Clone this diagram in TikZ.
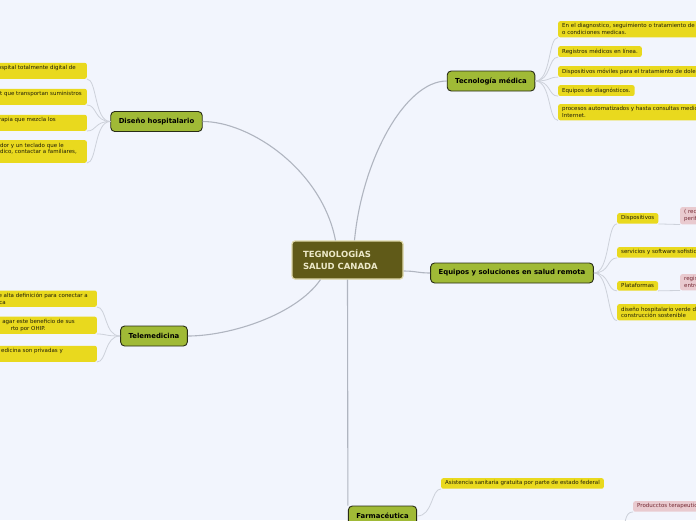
\documentclass[tikz,border=0pt]{standalone}
\usepackage{fontspec}
\setmainfont{DejaVu Sans}
\usepackage{tikz}
\usetikzlibrary{positioning}
\usepackage{xcolor}
\definecolor{PageBlue}{RGB}{242,245,253}
\definecolor{CentOlive}{RGB}{96,90,24}
\definecolor{CentEdge}{RGB}{222,216,170}
\definecolor{CentText}{RGB}{236,232,200}
\definecolor{BranchGreen}{RGB}{160,186,54}
\definecolor{BranchEdge}{RGB}{40,44,22}
\definecolor{LeafYellow}{RGB}{233,217,30}
\definecolor{LeafText}{RGB}{30,28,8}
\definecolor{LeafPink}{RGB}{233,202,207}
\definecolor{PinkText}{RGB}{115,40,50}
\definecolor{LineGray}{RGB}{176,181,192}
\definecolor{SubGray}{RGB}{205,209,218}
\newcommand{\gap}[1]{\rule{#1pt}{0pt}}
\tikzset{
  basebox/.style={rectangle,rounded corners=2pt,align=left,inner ysep=2.6pt},
  leafbox/.style={basebox,fill=LeafYellow,text=LeafText,inner xsep=4pt,
    font=\fontsize{5.5}{6.6}\selectfont},
  pinkbox/.style={basebox,fill=LeafPink,text=PinkText,inner xsep=4pt,
    font=\fontsize{5.5}{6.6}\selectfont},
  branchbox/.style={rectangle,rounded corners=4pt,draw=BranchEdge,line width=0.9pt,
    fill=BranchGreen,text=black,minimum height=20pt,inner xsep=8pt,
    font=\fontsize{6.9}{8}\selectfont\bfseries},
  centbox/.style={rectangle,rounded corners=3pt,draw=CentEdge,line width=1.2pt,
    fill=CentOlive,text=CentText,align=left,text width=89pt,inner xsep=11pt,
    minimum height=38pt,font=\fontsize{8.5}{12}\selectfont\bfseries},
  conn/.style={draw=LineGray,line width=1.1pt},
  subconn/.style={draw=SubGray,line width=0.8pt}
}

\begin{document}
\begin{tikzpicture}[x=1pt,y=-1pt]
  \fill[PageBlue] (0,0) rectangle (696,520);
  \useasboundingbox (0,0) rectangle (696,520);
  \clip (0,0) rectangle (696,520);

  % centre and main branches
  \node[centbox] (ctr) at (347.5,260) {TEGNOLOGÍAS\\SALUD CANADA};
  \node[branchbox] (tec) at (491,81) {Tecnología médica};
  \node[branchbox] (dis) at (156.5,121.5) {Diseño hospitalario};
  \node[branchbox] (equ) at (512,273) {Equipos y soluciones en salud remota};
  \node[branchbox] (tel) at (154,336) {Telemedicina};
  \node[branchbox] (far) at (382.5,516) {Farmacéutica};

  % Tecnologia medica
  \node[leafbox,anchor=north west] (tecA) at (558,21) {En el diagnostico, seguimiento o tratamiento de\gap{40}\\o condiciones medicas.};
  \node[leafbox,anchor=north west] (tecB) at (558,46) {Registros médicos en línea.};
  \node[leafbox,anchor=north west] (tecC) at (558,66) {Dispositivos móviles para el tratamiento de dolencias};
  \node[leafbox,anchor=north west] (tecD) at (558,85) {Equipos de diagnósticos.};
  \node[leafbox,anchor=north west] (tecE) at (558,104) {procesos automatizados y hasta consultas medicas por\\Internet.};

  % Diseno hospitalario
  \node[leafbox,align=right,anchor=south east] (disA) at (87,79) {\gap{40}ospital totalmente digital de\gap{7}\\ \mbox{}};
  \node[leafbox,align=right,anchor=south east] (disB) at (87,105) {\gap{40}t que transportan suministros\gap{1}\\ \mbox{}};
  \node[leafbox,align=right,anchor=south east] (disC) at (87,131) {\gap{40}rapia que mezcla los\gap{27}\\ \mbox{}};
  \node[leafbox,align=right,anchor=south east] (disD) at (87,163) {\gap{40}dor y un teclado que le\gap{19}\\dico, contactar a familiares,\gap{6}\\ \mbox{}};

  % Equipos y soluciones
  \node[leafbox,anchor=north west] (equA) at (617,213) {Dispositivos};
  \node[pinkbox,anchor=north west] (equAp) at (680,207) {( reconocimiento\\periféricos )};
  \node[leafbox,anchor=north west] (equB) at (617,247) {servicios y software sofisticados};
  \node[leafbox,anchor=north west] (equC) at (617,281) {Plataformas};
  \node[pinkbox,anchor=north west] (equCp) at (680,274) {registros\\entre};
  \node[leafbox,anchor=north west] (equD) at (617,304) {diseño hospitalario verde de\\construcción sostenible};

  % Telemedicina
  \node[leafbox,align=right,anchor=south east] (telA) at (97,307) {\gap{40}e alta definición para conectar a\gap{5}\\ca\gap{87}};
  \node[leafbox,align=right,anchor=south east] (telB) at (97,334) {\gap{40}agar este beneficio de sus\gap{18}\\\makebox[82pt][l]{rto por OHIP.}};
  \node[leafbox,align=right,anchor=south east] (telC) at (97,362) {\gap{40}edicina son privadas y\gap{30}\\ \mbox{}};

  % Farmaceutica
  \node[leafbox,anchor=north west] (farA) at (441,478) {Asistencia sanitaria gratuita por parte de estado federal};
  \node[pinkbox,anchor=north west] (farP) at (633,501) {Producctos terapeuticos};
  \coordinate (farX) at (621,540);

  % connectors
  \draw[conn] ([xshift=7pt]ctr.north) .. controls (362,160) and (405,81) .. (tec.west);
  \draw[conn] ([xshift=-12pt]ctr.north) .. controls (322,170) and (250,121.5) .. (dis.east);
  \draw[conn] ([yshift=-11pt]ctr.east) .. controls +(12,0) and +(-12,0) .. (equ.west);
  \draw[conn] ([xshift=-27pt]ctr.south) .. controls (296,315) and (230,336) .. (tel.east);
  \draw[conn] (ctr.south) -- (far.north west);

  \foreach \n in {tecA,tecB,tecC,tecD,tecE}
    \draw[subconn] (tec.east) .. controls +(16,0) and +(-10,0) .. (\n.south west);
  \foreach \n in {disA,disB,disC,disD}
    \draw[subconn] (dis.west) .. controls +(-16,0) and +(10,0) .. (\n.south east);
  \foreach \n in {equA,equB,equC,equD}
    \draw[subconn] (equ.east) .. controls +(16,0) and +(-10,0) .. (\n.south west);
  \foreach \a/\b in {equA/equAp,equC/equCp}
    \draw[subconn] (\a.south east) .. controls +(10,0) and +(-10,0) .. (\b.south west);
  \foreach \n in {telA,telB,telC}
    \draw[subconn] (tel.west) .. controls +(-16,0) and +(10,0) .. (\n.south east);
  \draw[subconn] (far.east) .. controls +(16,0) and +(-10,0) .. (farA.south west);
  \draw[subconn] (farX) .. controls (626,524) and (624,512) .. (farP.south west);
\end{tikzpicture}
\end{document}
